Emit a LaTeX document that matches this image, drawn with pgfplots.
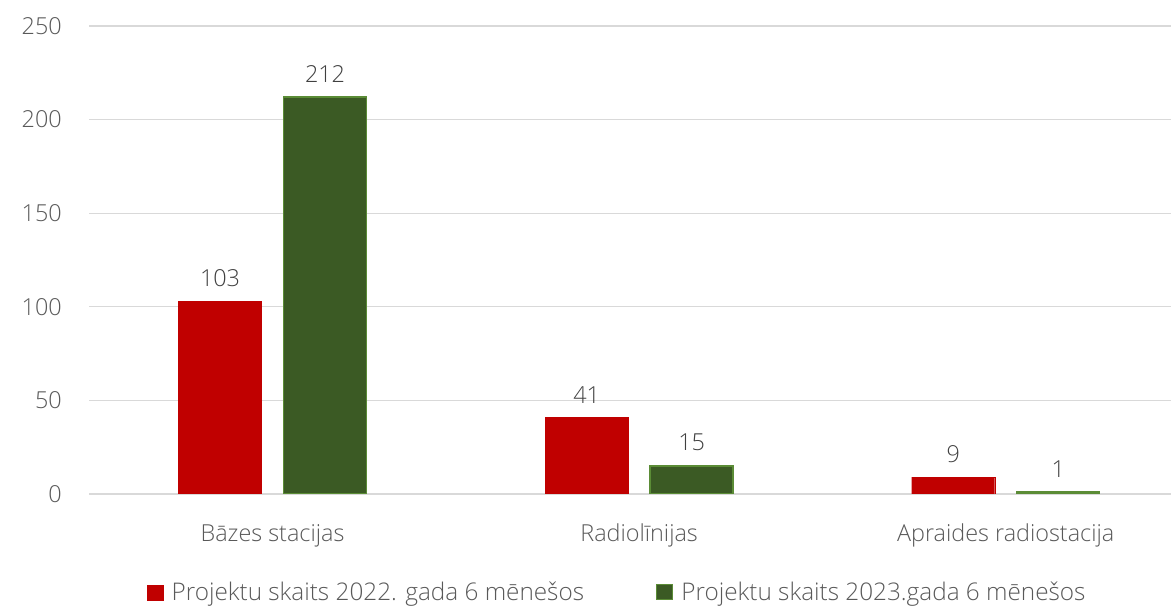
\documentclass[border=0pt]{standalone}
\usepackage{pgfplots}
\pgfplotsset{compat=1.18}
\usepackage{fontspec}
\setmainfont{Open Sans Light}

\definecolor{barred}{HTML}{C00000}
\definecolor{bargreen}{HTML}{3B5A24}
\definecolor{greenedge}{HTML}{5B8C36}
\definecolor{gridgray}{HTML}{D9D9D9}
\definecolor{labelgray}{HTML}{595959}
\definecolor{valgray}{HTML}{404040}

\begin{document}
\begin{tikzpicture}
\path[use as bounding box] (0,0) rectangle (1171pt,608pt);
\begin{axis}[
    at={(89pt,114pt)}, anchor=south west,
    scale only axis,
    width=1082pt, height=468pt,
    ybar=22pt, bar width=83pt,
    xmin=-0.5007, xmax=2.451,
    ymin=0, ymax=250,
    xtick=data,
    xticklabels={Bāzes stacijas, Radiolīnijas, Apraides radiostacija},
    ytick={0,50,100,150,200,250},
    axis line style={draw=none},
    major tick length=0pt,
    ymajorgrids=true,
    grid style={gridgray, line width=1.3pt},
    tick label style={font=\fontsize{23.4}{28}\selectfont, text=labelgray},
    yticklabel style={inner sep=0pt, anchor=east, xshift=-27pt},
    xticklabel style={inner sep=0pt, anchor=north, yshift=-30pt},
    /pgf/number format/assume math mode=true,
    nodes near coords,
    every node near coord/.append style={font=\fontsize{23.4}{28}\selectfont, text=valgray, inner sep=0pt, yshift=14pt, anchor=south},
    legend columns=2,
    legend style={draw=none, fill=none, at={(0.0536,-0.21)}, anchor=west,
        font=\fontsize{24.3}{29}\selectfont, text=labelgray,
        /tikz/every even column/.append style={column sep=70pt},
        inner sep=0pt},
    legend image code/.code={\fill[#1] (0pt,-7.5pt) rectangle (16pt,7.5pt);},
    legend cell align=left,
]
\addplot[fill=barred, draw=barred] coordinates {(0,103) (1,41) (2,9)};
\addplot[fill=bargreen, draw=greenedge, line width=1.4pt] coordinates {(0,212) (1,15) (2,1)};
\legend{\hspace{6pt}Projektu skaits 2022. gada 6 mēnešos, \hspace{6pt}Projektu skaits 2023.gada 6 mēnešos}
\end{axis}
\end{tikzpicture}
\end{document}
